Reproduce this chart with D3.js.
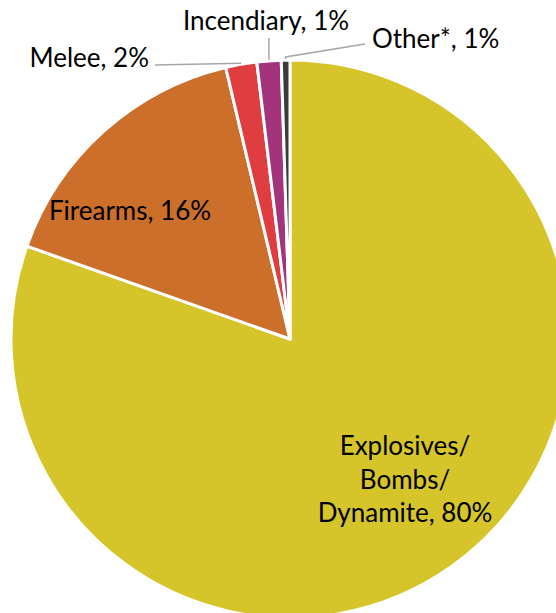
<!DOCTYPE html>
<html>
<head>
<meta charset="utf-8">
<script src="https://cdn.jsdelivr.net/npm/d3@7"></script>
<style>
  html, body { margin: 0; padding: 0; background: #fff; }
  svg { display: block; }
</style>
</head>
<body>
<svg id="chart" width="556" height="613"></svg>
<script>
// weapon types, share of attacks (%)
const categories = ["Explosives/Bombs/Dynamite", "Firearms", "Melee", "Incendiary", "Other*"];
const values = [80.4, 15.9, 1.8, 1.4, 0.5];
const labels = [
    ["Explosives/", "Bombs/", "Dynamite, 80%"],
    ["Firearms, 16%"],
    ["Melee, 2%"],
    ["Incendiary, 1%"],
    ["Other*, 1%"]
];
const colors = ["#d5c52a", "#cb6f2b", "#e03d40", "#a3337a", "#3b3b3b"];

const width = 556, height = 613;
const cx = 290, cy = 339, radius = 279;

const svg = d3.select("#chart");
const g = svg.append("g").attr("transform", `translate(${cx},${cy})`);

const data = categories.map((c, i) => ({name: c, value: values[i], label: labels[i], color: colors[i]}));

const pie = d3.pie().value(d => d.value).sort(null);
const arc = d3.arc().innerRadius(0).outerRadius(radius);
const arcs = pie(data);

g.selectAll("path")
    .data(arcs)
    .join("path")
    .attr("d", arc)
    .attr("fill", d => d.data.color)
    .attr("stroke", "#fff")
    .attr("stroke-width", 3)
    .attr("stroke-linejoin", "round");

// label placement (relative to pie centre)
const inside = {
    "Explosives/Bombs/Dynamite": {x: 115, y: 116},
    "Firearms": {x: -160, y: -119}
};
// outside labels: text anchor point and leader elbow
const outside = {
    "Melee": {tx: -141, ty: -272, anchor: "end", elbow: [-135, -274]},
    "Incendiary": {tx: -24, ty: -309, anchor: "middle", elbow: null, topY: -301},
    "Other*": {tx: 82, ty: -291, anchor: "start", elbow: [-2, -282], end: [75, -295]}
};

const fontFamily = "Lato, 'Open Sans', sans-serif";
const fontSize = 26;

arcs.forEach(a => {
    const name = a.data.name;
    if (inside[name]) {
        const p = inside[name];
        const t = g.append("text")
            .attr("x", p.x).attr("y", p.y)
            .attr("text-anchor", "middle")
            .attr("font-family", fontFamily)
            .attr("font-size", fontSize)
            .attr("fill", "#000");
        a.data.label.forEach((line, i) => {
            t.append("tspan").attr("x", p.x).attr("dy", i === 0 ? 0 : 33.5).text(line);
        });
    }
});

arcs.forEach(a => {
    const name = a.data.name;
    const o = outside[name];
    if (!o) return;
    const mid = (a.startAngle + a.endAngle) / 2;
    const r0 = radius + 1;
    const sx = Math.sin(mid) * r0, sy = -Math.cos(mid) * r0;
    let pts;
    if (name === "Melee") {
        pts = [[sx, sy], o.elbow];
    } else if (name === "Incendiary") {
        pts = [[sx, sy], [sx, o.topY]];
    } else {
        pts = [[sx, sy], [sx, o.elbow[1]], o.end];
    }
    g.append("path")
        .attr("d", d3.line()(pts))
        .attr("fill", "none")
        .attr("stroke", "#a6a6a6")
        .attr("stroke-width", 1.5);
    g.append("text")
        .attr("x", o.tx).attr("y", o.ty)
        .attr("text-anchor", o.anchor)
        .attr("font-family", fontFamily)
        .attr("font-size", fontSize)
        .attr("fill", "#000")
        .text(a.data.label[0]);
});
</script>
</body>
</html>
